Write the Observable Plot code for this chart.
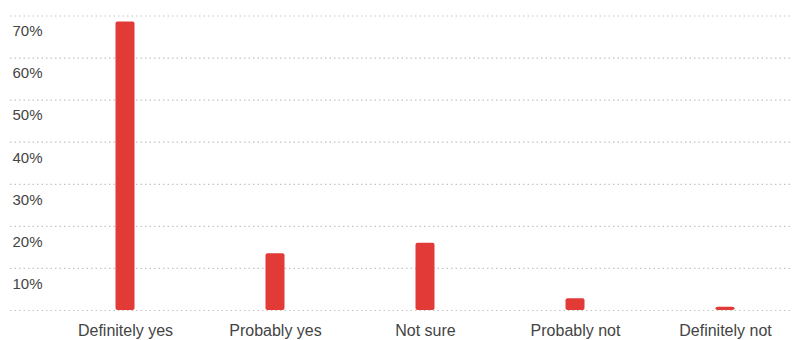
<!DOCTYPE html>
<html>
<head>
<meta charset="utf-8">
<script src="https://cdn.jsdelivr.net/npm/d3@7"></script>
<script src="https://cdn.jsdelivr.net/npm/@observablehq/plot@0.6"></script>
<style>
  html, body { margin: 0; padding: 0; background: #fff; }
</style>
</head>
<body>
<div id="chart"></div>
<script>
// Survey answers and the share of respondents for each
const categories = ["Definitely yes", "Probably yes", "Not sure", "Probably not", "Definitely not"];
const shares = [0.686, 0.135, 0.16, 0.028, 0.008];
const yTicks = [0.1, 0.2, 0.3, 0.4, 0.5, 0.6, 0.7];
const gridLines = [0, 0.1, 0.2, 0.3, 0.4, 0.5, 0.6, 0.7];

const data = categories.map((c, i) => ({answer: c, share: shares[i]}));

const chart = Plot.plot({
  width: 792,
  height: 340,
  marginLeft: 10,
  marginRight: 0,
  marginTop: 15.5,
  marginBottom: 30,
  style: {
    fontFamily: "'Liberation Sans', Arial, sans-serif",
    fontSize: "15px",
    color: "#444",
    background: "#fff"
  },
  x: {domain: categories, range: [50, 800], padding: 0, axis: null},
  y: {domain: [0, 0.7], axis: null},
  marks: [
    Plot.ruleY(gridLines, {stroke: "#c4c4c4", strokeWidth: 1.2, strokeDasharray: "1.5,3"}),
    Plot.barY(data, {
      x: "answer",
      y: "share",
      fill: "#e23a37",
      insetLeft: 65.5,
      insetRight: 65.5,
      rx: 2
    }),
    Plot.text(yTicks, {
      y: d => d,
      frameAnchor: "left",
      textAnchor: "start",
      dx: 2,
      dy: 15.5,
      fontSize: 15,
      fill: "#444",
      text: d => `${Math.round(d * 100)}%`
    }),
    Plot.axisX({tickSize: 0, tickPadding: 14, fontSize: 16, fill: "#444", label: null})
  ]
});

document.getElementById("chart").appendChild(chart);
</script>
</body>
</html>
